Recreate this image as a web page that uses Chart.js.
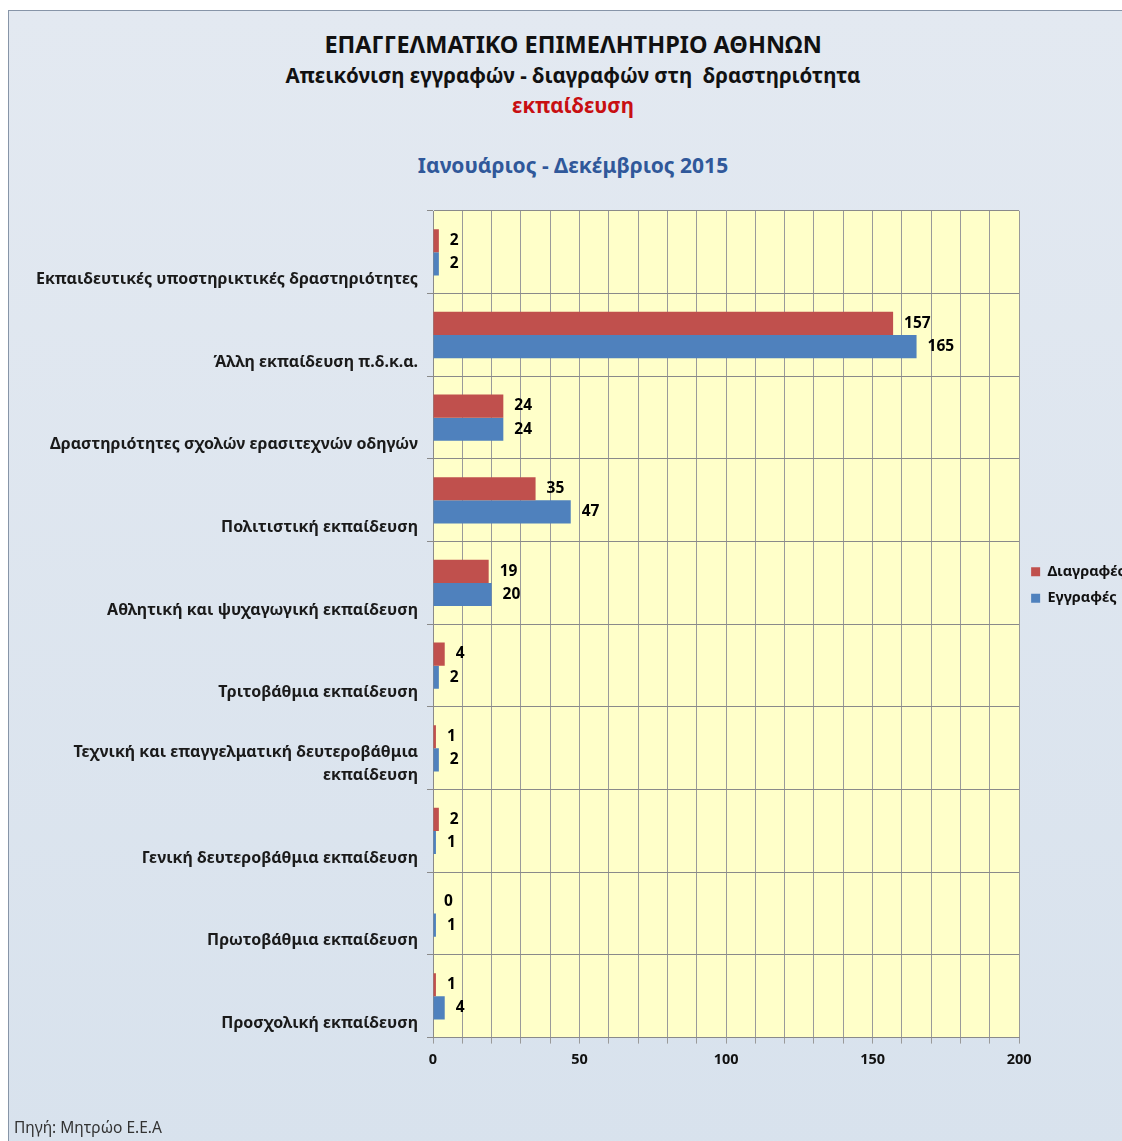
<!DOCTYPE html>
<html>
<head>
<meta charset="utf-8">
<script src="https://cdn.jsdelivr.net/npm/chart.js@4.4.1/dist/chart.umd.min.js"></script>
<style>
  html, body { margin: 0; padding: 0; background: #fff; overflow: hidden; width: 1122px; height: 1141px; }
  #frame {
    position: absolute; left: 8px; top: 10px; width: 1140px; height: 1140px;
    border: 1px solid #8795a8;
    background: linear-gradient(#e3e9f1, #d8e2ed);
  }
  #wrap { position: absolute; left: 0; top: 0; width: 1132px; height: 1131px; }
  .hdr { position: absolute; left: -8px; width: 1144px; height: 30px; line-height: 30px; text-align: center; font-family: "Noto Sans", sans-serif; font-weight: bold; white-space: nowrap; }
  #t1 { top: 18px; font-size: 23.5px; color: #111; }
  #t2 { top: 49px; font-size: 20.5px; color: #111; }
  #t3 { top: 79px; font-size: 20.5px; color: #c80f12; }
  #t4 { top: 139px; font-size: 21px; color: #30589a; }
  #src { position: absolute; left: 5px; top: 1106px; height: 20px; line-height: 20px; font-family: "Noto Sans", sans-serif; font-size: 15.5px; color: #333; }
</style>
</head>
<body>
<div id="frame">
  <div class="hdr" id="t1">ΕΠΑΓΓΕΛΜΑΤΙΚΟ ΕΠΙΜΕΛΗΤΗΡΙΟ ΑΘΗΝΩΝ</div>
  <div class="hdr" id="t2">Απεικόνιση εγγραφών - διαγραφών στη&nbsp; δραστηριότητα</div>
  <div class="hdr" id="t3">εκπαίδευση</div>
  <div class="hdr" id="t4">Ιανουάριος - Δεκέμβριος 2015</div>
  <div id="wrap"><canvas id="eduChart" width="1132" height="1131"></canvas></div>
  <div id="src">Πηγή: Μητρώο Ε.Ε.Α</div>
</div>
<script>
// categories, top to bottom (the two-line label keeps an empty third line so it sits like the others)
const categories = [
    'Εκπαιδευτικές υποστηρικτικές δραστηριότητες',
    'Άλλη εκπαίδευση π.δ.κ.α.',
    'Δραστηριότητες σχολών ερασιτεχνών οδηγών',
    'Πολιτιστική εκπαίδευση',
    'Αθλητική και ψυχαγωγική εκπαίδευση',
    'Τριτοβάθμια εκπαίδευση',
    ['Τεχνική και επαγγελματική δευτεροβάθμια', 'εκπαίδευση', ''],
    'Γενική δευτεροβάθμια εκπαίδευση',
    'Πρωτοβάθμια εκπαίδευση',
    'Προσχολική εκπαίδευση'
];
const diagrafes = [2, 157, 24, 35, 19, 4, 1, 2, 0, 1];
const eggrafes = [2, 165, 24, 47, 20, 2, 2, 1, 1, 4];
const xLabelTicks = [0, 50, 100, 150, 200];

const FONT = '"Noto Sans", sans-serif';

// yellow plot area
const plotBg = {
    id: 'plotBg',
    beforeDraw(chart) {
        const a = chart.chartArea;
        const ctx = chart.ctx;
        ctx.save();
        ctx.fillStyle = '#ffffc9';
        ctx.fillRect(a.left, a.top, a.right - a.left, a.bottom - a.top);
        ctx.restore();
    }
};

// value labels at bar ends
const valueLabels = {
    id: 'valueLabels',
    afterDatasetsDraw(chart) {
        const ctx = chart.ctx;
        ctx.save();
        ctx.font = 'bold 15.5px ' + FONT;
        ctx.fillStyle = '#000';
        ctx.textBaseline = 'middle';
        ctx.textAlign = 'left';
        chart.data.datasets.forEach((ds, i) => {
            chart.getDatasetMeta(i).data.forEach((bar, j) => {
                ctx.fillText(ds.data[j], bar.x + 11, bar.y);
            });
        });
        ctx.restore();
    }
};

const ctxEdu = document.getElementById('eduChart').getContext('2d');
const eduChart = new Chart(ctxEdu, {
    type: 'bar',
    data: {
        labels: categories,
        datasets: [{
            label: 'Διαγραφές',
            data: diagrafes,
            backgroundColor: '#c0504d',
            borderWidth: 0
        }, {
            label: 'Εγγραφές',
            data: eggrafes,
            backgroundColor: '#4f81bd',
            borderWidth: 0
        }]
    },
    options: {
        indexAxis: 'y',
        responsive: false,
        animation: false,
        layout: {
            padding: { top: 200, bottom: 65, left: 0, right: 6 }
        },
        datasets: {
            bar: { categoryPercentage: 0.56, barPercentage: 1.0 }
        },
        scales: {
            x: {
                min: 0,
                max: 200,
                grid: { color: '#9a9a9a', tickLength: 6 },
                border: { color: '#8a8a8a' },
                ticks: {
                    stepSize: 10,
                    autoSkip: false,
                    maxRotation: 0,
                    padding: 8,
                    color: '#111',
                    font: { family: FONT, size: 14.5, weight: 'bold' },
                    callback: v => xLabelTicks.includes(v) ? v : ''
                }
            },
            y: {
                afterFit(scale) { scale.width = 424; },
                grid: { color: '#8a8a8a', tickLength: 6 },
                border: { color: '#8a8a8a' },
                ticks: {
                    color: '#1a1a1a',
                    padding: 9,
                    labelOffset: 27,
                    font: { family: FONT, size: 16, weight: 'bold', lineHeight: 1.44 }
                }
            }
        },
        plugins: {
            legend: {
                position: 'right',
                align: 'start',
                title: { display: true, text: '', padding: { top: 327, bottom: 0 } },
                labels: {
                    boxWidth: 9,
                    boxHeight: 9,
                    padding: 12,
                    color: '#111',
                    font: { family: FONT, size: 14.5, weight: 'bold' }
                }
            },
            tooltip: { enabled: false }
        }
    },
    plugins: [plotBg, valueLabels]
});
</script>
</body>
</html>
